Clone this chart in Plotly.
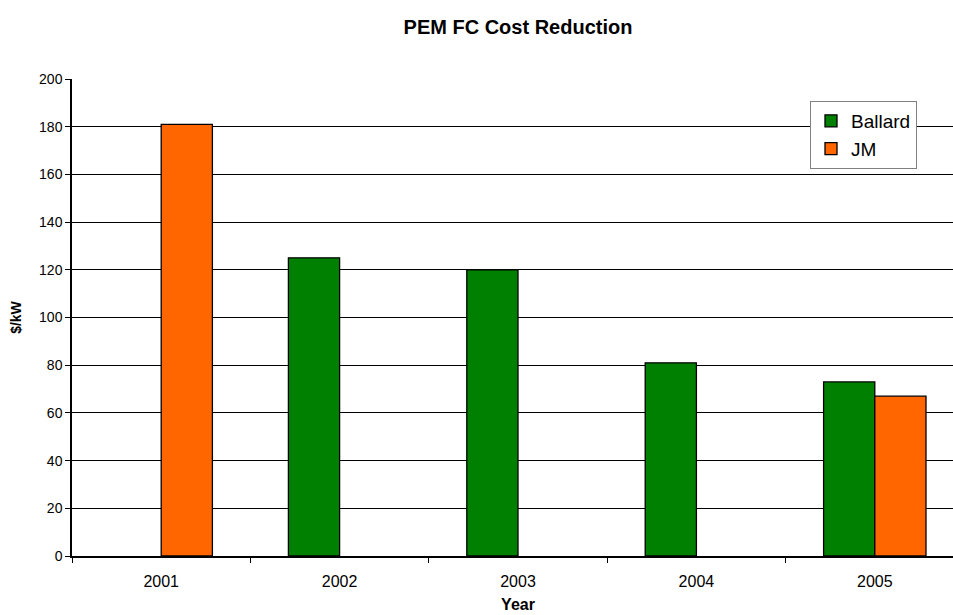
import plotly.graph_objects as go

years = ["2001", "2002", "2003", "2004", "2005"]
ballard = [None, 125, 120, 81, 73]
jm = [181, None, None, None, 67]
y_ticks = [0, 20, 40, 60, 80, 100, 120, 140, 160, 180, 200]

FONT = "Liberation Sans, Arial, sans-serif"

fig = go.Figure()
fig.add_trace(go.Bar(
    name="Ballard", x=years, y=ballard,
    marker=dict(color="#008000", line=dict(color="black", width=1.3)),
))
fig.add_trace(go.Bar(
    name="JM", x=years, y=jm,
    marker=dict(color="#FF6600", line=dict(color="black", width=1.3)),
))

W, H = 970, 615
L, R, T, B = 72, 6, 79, 59

fig.update_layout(
    width=W, height=H,
    margin=dict(l=L, r=R, t=T, b=B, autoexpand=False),
    paper_bgcolor="white", plot_bgcolor="white",
    barmode="group", bargap=0.426, bargroupgap=0,
    font=dict(family=FONT, color="black", size=14),
    title=dict(
        text="<b>PEM FC Cost Reduction</b>",
        x=(L + (W - R)) / 2 / W, xanchor="center",
        y=1 - 27 / H, yanchor="middle", yref="container",
        font=dict(size=20, family=FONT),
    ),
    legend=dict(
        x=(810 - L) / (W - L - R), y=(556 - 101) / (H - T - B),
        xanchor="left", yanchor="top",
        bgcolor="white", bordercolor="#808080", borderwidth=1,
        font=dict(size=19, family=FONT),
        itemwidth=30, tracegroupgap=0,
    ),
    showlegend=True,
)

fig.update_xaxes(
    automargin=False,
    title=dict(text="<b>Year</b>", font=dict(size=16), standoff=10),
    showline=True, linecolor="black", linewidth=1.5,
    ticks="outside", tickson="boundaries", ticklen=5, tickcolor="black",
    ticklabelstandoff=10,
    tickfont=dict(size=16), showgrid=False,
)
fig.update_yaxes(
    automargin=False,
    title=dict(text="<b>$/kW</b>", font=dict(size=14), standoff=14),
    range=[0, 200], tickvals=y_ticks,
    showline=True, linecolor="black", linewidth=1.5,
    ticks="outside", ticklen=5, tickcolor="black",
    tickfont=dict(size=14),
    showgrid=True, gridcolor="black", gridwidth=1,
    zeroline=False,
)

fig.write_html("out.html")
